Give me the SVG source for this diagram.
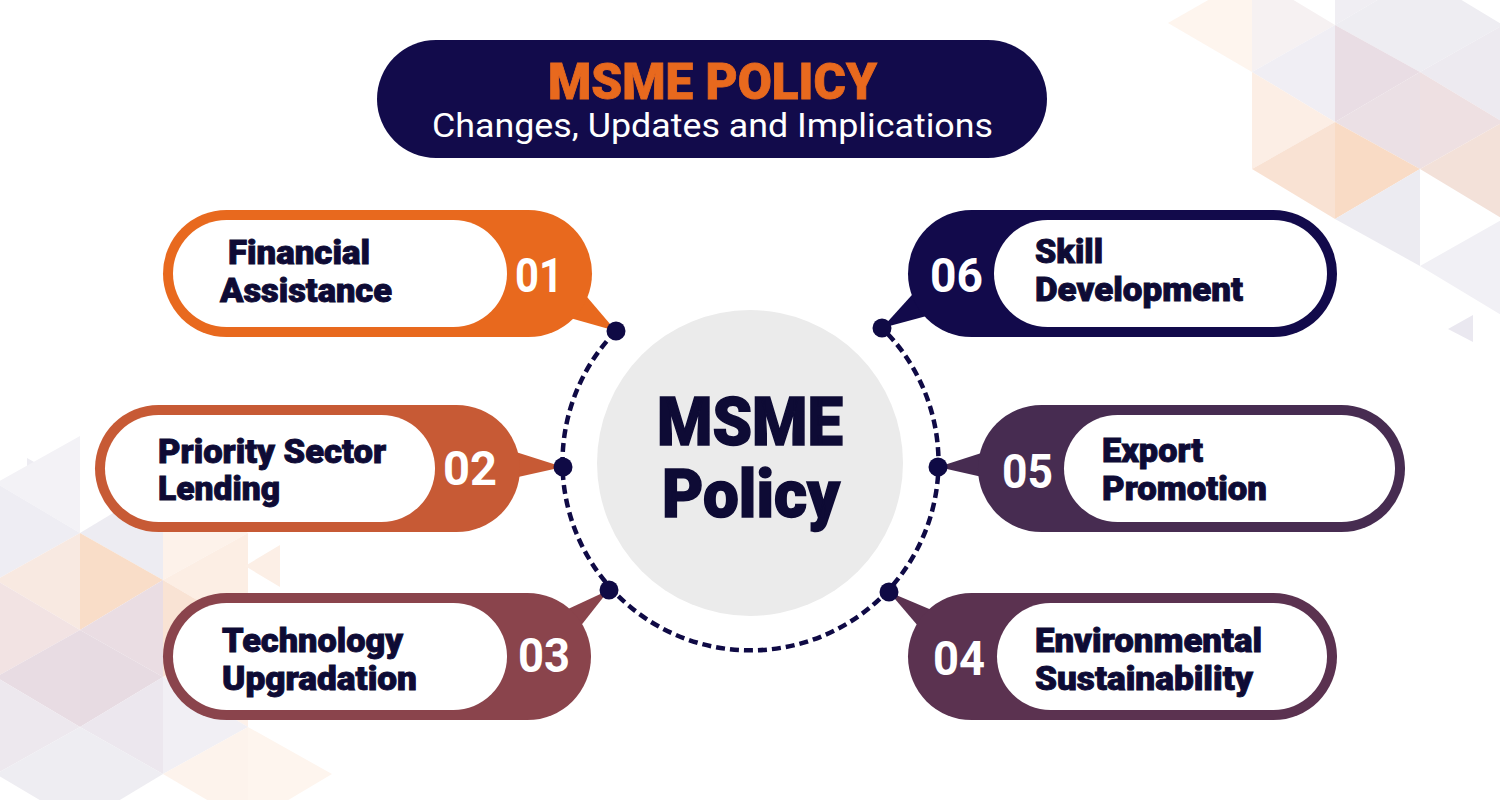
<svg xmlns="http://www.w3.org/2000/svg" width="1500" height="800" viewBox="0 0 1500 800">
<style>
.lbl{font-family:Roboto,"Liberation Sans",sans-serif;font-weight:900;font-size:33px;fill:#0E0B35;stroke:#0E0B35;stroke-width:0.9px}
.num{font-family:Roboto,"Liberation Sans",sans-serif;font-weight:700;font-size:48px;fill:#FFFFFF}
.inner{fill:#FFFFFF}
.dot{fill:#0F0A45}
</style>
<rect width="1500" height="800" fill="#FFFFFF"/>
<g id="background">
<polygon points="1168,23 1252,-25 1252,72" fill="#FEF5EE"/>
<polygon points="1252,-25 1335,25 1252,72" fill="#F6F1F2"/>
<polygon points="1335,25 1252,72 1335,122" fill="#F0EEF4"/>
<polygon points="1335,-72 1420,-25 1335,25" fill="#F0EEF3"/>
<polygon points="1335,25 1420,-25 1420,72" fill="#EEEDF2"/>
<polygon points="1335,25 1420,72 1335,122" fill="#E9DDE4"/>
<polygon points="1335,122 1420,72 1420,169" fill="#EBE0E5"/>
<polygon points="1420,-25 1503,25 1420,72" fill="#EEEDF2"/>
<polygon points="1420,72 1503,25 1503,122" fill="#EDEAF0"/>
<polygon points="1420,72 1503,122 1420,169" fill="#EEE0E2"/>
<polygon points="1420,169 1503,122 1503,219" fill="#F3E1D9"/>
<polygon points="1252,72 1335,122 1252,169" fill="#FCEEE5"/>
<polygon points="1252,169 1335,122 1335,219" fill="#F9E2D3"/>
<polygon points="1335,122 1420,169 1335,219" fill="#F9DBC5"/>
<polygon points="1335,219 1420,169 1420,266" fill="#ECEBF1"/>
<polygon points="1420,266 1503,219 1503,316" fill="#F1F0F5"/>
<polygon points="1473,315 1448,329 1473,342" fill="#EAE8F0"/>
<polygon points="27,458 50,471 27,485" fill="#EDECF2"/>
<polygon points="-4,483 80,436 80,533" fill="#F3F2F6"/>
<polygon points="-4,483 80,533 -4,580" fill="#EEEDF3"/>
<polygon points="-4,580 80,533 80,630" fill="#F8E9E1"/>
<polygon points="-4,580 80,630 -4,677" fill="#F2E3E3"/>
<polygon points="-4,677 80,630 80,727" fill="#E8DCE3"/>
<polygon points="-4,677 80,727 -4,774" fill="#EDE8EE"/>
<polygon points="-4,774 80,727 80,824" fill="#EEEDF2"/>
<polygon points="80,533 163,483 163,580" fill="#EDECF2"/>
<polygon points="80,533 163,580 80,630" fill="#F9DDC8"/>
<polygon points="80,630 163,580 163,677" fill="#EADDE3"/>
<polygon points="80,630 163,677 80,727" fill="#E7DBE2"/>
<polygon points="80,727 163,677 163,774" fill="#ECE7EE"/>
<polygon points="80,727 163,774 80,824" fill="#EEEDF2"/>
<polygon points="163,483 248,533 163,580" fill="#FDF2EA"/>
<polygon points="163,580 248,533 248,630" fill="#FCEEE4"/>
<polygon points="163,580 248,630 163,677" fill="#F9E3D4"/>
<polygon points="163,677 248,630 248,727" fill="#FDF1EA"/>
<polygon points="163,677 248,727 163,774" fill="#F1EFF4"/>
<polygon points="163,774 248,727 248,824" fill="#FDF3EC"/>
<polygon points="248,727 332,774 248,824" fill="#FEF5EE"/>
<polygon points="280,545 245,566 280,587" fill="#FCEFE6"/>
</g>
<g id="header">
<rect x="377" y="40" width="670" height="118" rx="59" fill="#120B4B"/>
<text x="548" y="99" font-family="Roboto,'Liberation Sans',sans-serif" font-weight="900" font-size="50" fill="#E8691E" stroke="#E8691E" stroke-width="0.8" textLength="329" lengthAdjust="spacingAndGlyphs">MSME POLICY</text>
<text x="432" y="137" font-family="Roboto,'Liberation Sans',sans-serif" font-weight="400" font-size="33" fill="#FFFFFF" textLength="561" lengthAdjust="spacingAndGlyphs">Changes, Updates and Implications</text>
</g>
<g id="center">
<circle cx="750" cy="463" r="153" fill="#EBEBEB"/>
<text x="657" y="445" font-family="Roboto,'Liberation Sans',sans-serif" font-weight="900" font-size="66" fill="#0E0B35" stroke="#0E0B35" stroke-width="1.5" textLength="186" lengthAdjust="spacingAndGlyphs">MSME</text>
<text x="662" y="517" font-family="Roboto,'Liberation Sans',sans-serif" font-weight="900" font-size="66" fill="#0E0B35" stroke="#0E0B35" stroke-width="1.5" textLength="178" lengthAdjust="spacingAndGlyphs">Policy</text>
</g>
<g id="connectors">
<path d="M 616 331 A 188 188 0 1 0 882 328" fill="none" stroke="#0F0A45" stroke-width="4.5" stroke-dasharray="9 5"/>
</g>
<g id="node01">
<polygon points="540,309.5 570,277 616,331" fill="#E8691E"/>
<rect x="163" y="210" width="429" height="127" rx="63.5" fill="#E8691E"/>
<rect class="inner" x="173" y="220" width="334" height="107" rx="53.5"/>
<text class="lbl" x="228" y="264" textLength="142" lengthAdjust="spacingAndGlyphs">Financial</text>
<text class="lbl" x="220" y="302" textLength="172" lengthAdjust="spacingAndGlyphs">Assistance</text>
<text class="num" x="515" y="292" textLength="48" lengthAdjust="spacingAndGlyphs">01</text>
<circle class="dot" cx="616" cy="331" r="9.5"/>
</g>
<g id="node02">
<polygon points="500,447 500,481 563,467" fill="#C75A35"/>
<rect x="95" y="405" width="425" height="127" rx="63.5" fill="#C75A35"/>
<rect class="inner" x="105" y="415" width="330" height="107" rx="53.5"/>
<text class="lbl" x="158" y="463" textLength="228" lengthAdjust="spacingAndGlyphs">Priority Sector</text>
<text class="lbl" x="158" y="500" textLength="122" lengthAdjust="spacingAndGlyphs">Lending</text>
<text class="num" x="443" y="485" textLength="54" lengthAdjust="spacingAndGlyphs">02</text>
<circle class="dot" cx="563" cy="467" r="9.5"/>
</g>
<g id="node03">
<polygon points="540,622 570,639.5 609,590" fill="#8A444C"/>
<rect x="163" y="593" width="428" height="127" rx="63.5" fill="#8A444C"/>
<rect class="inner" x="173" y="603" width="334" height="107" rx="53.5"/>
<text class="lbl" x="222" y="652" textLength="181" lengthAdjust="spacingAndGlyphs">Technology</text>
<text class="lbl" x="222" y="690" textLength="195" lengthAdjust="spacingAndGlyphs">Upgradation</text>
<text class="num" x="518" y="672" textLength="52" lengthAdjust="spacingAndGlyphs">03</text>
<circle class="dot" cx="609" cy="590" r="9.5"/>
</g>
<g id="node04">
<polygon points="960,622 930,640 889,592" fill="#5B3250"/>
<rect x="908" y="593" width="429" height="127" rx="63.5" fill="#5B3250"/>
<rect class="inner" x="997" y="603" width="330" height="107" rx="53.5"/>
<text class="lbl" x="1035" y="652" textLength="227" lengthAdjust="spacingAndGlyphs">Environmental</text>
<text class="lbl" x="1035" y="690" textLength="218" lengthAdjust="spacingAndGlyphs">Sustainability</text>
<text class="num" x="933" y="675" textLength="52" lengthAdjust="spacingAndGlyphs">04</text>
<circle class="dot" cx="889" cy="592" r="9.5"/>
</g>
<g id="node05">
<polygon points="1000,447 1000,481 938,467" fill="#472C51"/>
<rect x="978" y="405" width="427" height="127" rx="63.5" fill="#472C51"/>
<rect class="inner" x="1064" y="415" width="331" height="107" rx="53.5"/>
<text class="lbl" x="1102" y="462" textLength="101" lengthAdjust="spacingAndGlyphs">Export</text>
<text class="lbl" x="1102" y="500" textLength="165" lengthAdjust="spacingAndGlyphs">Promotion</text>
<text class="num" x="1002" y="488" textLength="51" lengthAdjust="spacingAndGlyphs">05</text>
<circle class="dot" cx="938" cy="467" r="9.5"/>
</g>
<g id="node06">
<polygon points="960,307 930,275 882,328" fill="#120A4B"/>
<rect x="908" y="210" width="429" height="127" rx="63.5" fill="#120A4B"/>
<rect class="inner" x="994" y="220" width="333" height="107" rx="53.5"/>
<text class="lbl" x="1035" y="263" textLength="68" lengthAdjust="spacingAndGlyphs">Skill</text>
<text class="lbl" x="1035" y="301" textLength="208" lengthAdjust="spacingAndGlyphs">Development</text>
<text class="num" x="930" y="292" textLength="53" lengthAdjust="spacingAndGlyphs">06</text>
<circle class="dot" cx="882" cy="328" r="9.5"/>
</g>
</svg>
